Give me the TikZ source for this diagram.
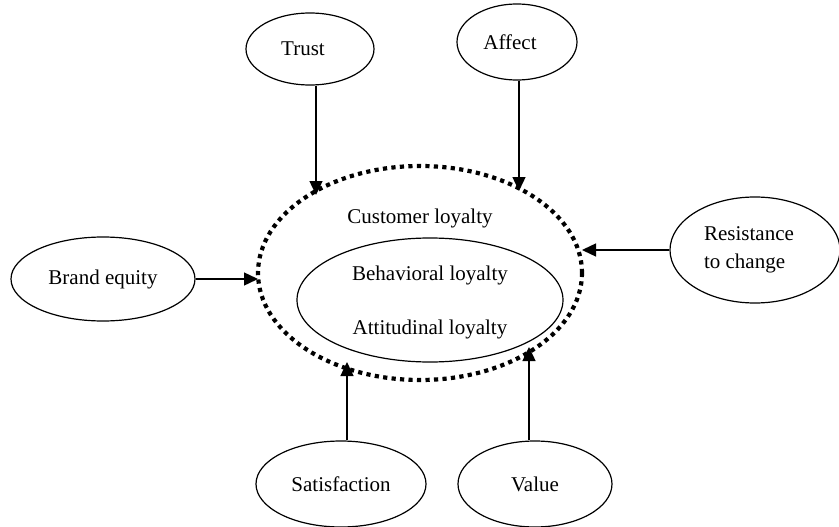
\documentclass[tikz,border=0pt]{standalone}
\usepackage{fontspec}
\setmainfont{Liberation Serif}
\usetikzlibrary{shapes.geometric,arrows.meta}
\begin{document}
\begin{tikzpicture}[x=1pt,y=-1pt,
  oval/.style={draw,line width=1.2pt,ellipse,inner sep=0pt,font=\fontsize{21}{25}\selectfont},
  arr/.style={line width=1.4pt,-{Triangle[length=14pt,width=13pt]}},
  lbl/.style={font=\fontsize{21}{25}\selectfont,inner sep=0pt}]
\useasboundingbox (0,0) rectangle (839,527);
% outer dotted ellipse
\node[draw,ellipse,line width=4.2pt,dash pattern=on 4.2pt off 4.3pt,minimum width=324pt,minimum height=214pt,inner sep=0pt] (loyalty) at (420,273) {};
\node[lbl] (cl) at (420,218) {Customer loyalty};
\node[oval,minimum width=266pt,minimum height=124pt] (inner) at (430,300) {};
\node[lbl] (bl) at (430,275) {Behavioral loyalty};
\node[lbl] (al) at (430,329) {Attitudinal loyalty};
% factor ellipses
\node[oval,minimum width=128pt,minimum height=72pt] (trust) at (310,49) {\raisebox{-3pt}{\hspace*{-14pt}Trust}};
\node[oval,minimum width=120pt,minimum height=76pt] (affect) at (517,42) {\raisebox{-3pt}{\hspace*{-14pt}Affect}};
\node[oval,minimum width=184pt,minimum height=84pt] (brand) at (103,279) {Brand equity};
\node[oval,minimum width=170pt,minimum height=106pt,align=left] (resist) at (755,250) {\hspace*{-12pt}Resistance\\[3pt]\hspace*{-12pt}to change};
\node[oval,minimum width=170pt,minimum height=86pt] (satis) at (341,484) {Satisfaction};
\node[oval,minimum width=154pt,minimum height=86pt] (value) at (535,484) {Value};
% arrow tips on the dotted ellipse
\coordinate (tT) at (316,195);
\coordinate (tA) at (519,191);
\coordinate (tB) at (258,279);
\coordinate (tR) at (582,250);
\coordinate (tS) at (347,362);
\coordinate (tV) at (529,347);
\draw[arr] (trust.south -| tT) -- (tT);
\draw[arr] (affect.south -| tA) -- (tA);
\draw[arr] (brand.east) -- (tB);
\draw[arr] (resist.west) -- (tR);
\draw[arr] (satis.north -| tS) -- (tS);
\draw[arr] (value.north -| tV) -- (tV);
\end{tikzpicture}
\end{document}
